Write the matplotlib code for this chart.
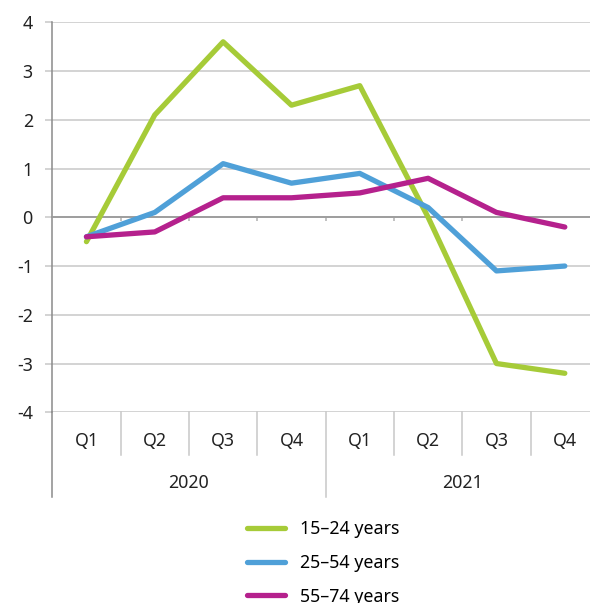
# 就业变化折线图
import matplotlib.pyplot as plt
from matplotlib.transforms import blended_transform_factory

# 数据
years = ['2020', '2021']
quarters = ['Q1', 'Q2', 'Q3', 'Q4', 'Q1', 'Q2', 'Q3', 'Q4']
youth = [-0.5, 2.1, 3.6, 2.3, 2.7, 0.0, -3.0, -3.2]      # 15–24
prime = [-0.4, 0.1, 1.1, 0.7, 0.9, 0.2, -1.1, -1.0]      # 25–54
older = [-0.4, -0.3, 0.4, 0.4, 0.5, 0.8, 0.1, -0.2]      # 55–74
labels = ['15–24 years', '25–54 years', '55–74 years']
colors = ['#a6cb38', '#4fa0d8', '#b5218d']

plt.rcParams['font.family'] = ['Noto Sans', 'DejaVu Sans']
plt.rcParams['axes.unicode_minus'] = False
fig = plt.figure(figsize=(5.9, 6.03), dpi=100)
ax = fig.add_axes([0.0886, 0.3163, 0.9266, 0.6467])

x = list(range(len(quarters)))
for ys, c, lab in zip([youth, prime, older], colors, labels):
    ax.plot(x, ys, color=c, lw=3.8, label=lab, solid_capstyle='round', zorder=3)

ax.set_xlim(-0.5, 7.5)
ax.set_ylim(-4, 4)
ax.set_yticks(range(-4, 5))
ax.yaxis.grid(True, color='#c8c8c8', lw=1.1)
ax.set_axisbelow(True)
ax.tick_params(axis='y', length=5, width=1.1, color='#c8c8c8', pad=9,
               labelsize=12.8, labelcolor='#222222')

# 横轴放在0处
for s in ['top', 'right']:
    ax.spines[s].set_visible(False)
ax.spines['left'].set_color('#8a8a8a')
ax.spines['left'].set_linewidth(1.1)
ax.spines['bottom'].set_position(('data', 0))
ax.spines['bottom'].set_color('#9a9a9a')
ax.spines['bottom'].set_linewidth(1.3)
ax.set_xticks([i + 0.5 for i in range(7)])
ax.set_xticklabels([])
ax.tick_params(axis='x', length=3, width=1.1, color='#b0b0b0')

# 底部分类标签
tr = blended_transform_factory(ax.transData, ax.transAxes)
for i, q in enumerate(quarters):
    ax.text(i, -0.0736, q, transform=tr, ha='center', va='center',
            fontsize=12.8, color='#222222')
for b in [0.5, 1.5, 2.5, 4.5, 5.5, 6.5]:
    ax.plot([b, b], [0, -0.109], transform=tr, color='#c8c8c8', lw=1.1, clip_on=False)
for b in [-0.5, 3.5]:
    ax.plot([b, b], [0, -0.217], transform=tr,
            color='#8a8a8a' if b < 0 else '#c8c8c8', lw=1.1, clip_on=False)
for j, yr in enumerate(years):
    ax.text(1.5 + 4 * j, -0.181, yr, transform=tr, ha='center', va='center',
            fontsize=12.8, color='#222222')

fig.legend(loc='center left', bbox_to_anchor=(0.419, 0.0667), frameon=False,
           fontsize=12.8, handlelength=2.1, handletextpad=0.85, labelspacing=0.89,
           borderpad=0, borderaxespad=0)

fig.savefig('out.png', dpi=100)
